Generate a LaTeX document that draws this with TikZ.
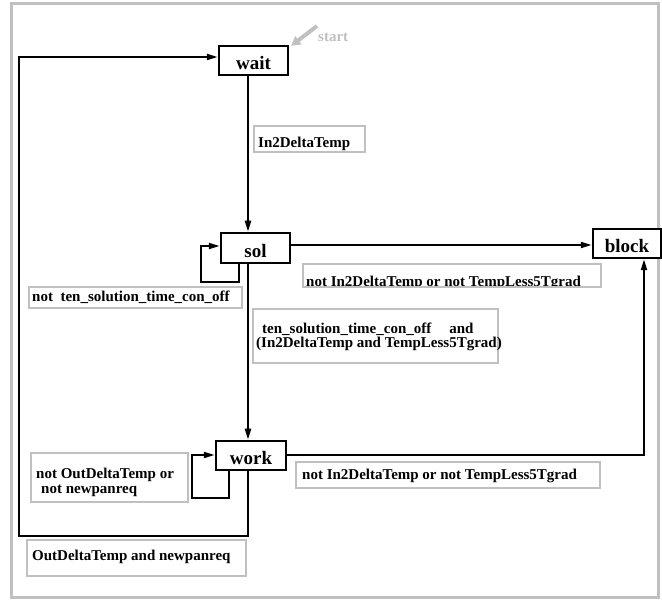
\documentclass[tikz,border=0pt]{standalone}
\usepackage{fontspec}
\setmainfont{Liberation Serif}
\usetikzlibrary{arrows.meta}
\definecolor{lgray}{RGB}{192,192,192}
\begin{document}
\begin{tikzpicture}[x=1pt,y=-1pt,
  state/.style={draw=black, line width=2.5pt, fill=white, minimum width=69pt,
    minimum height=29pt, inner sep=0pt, text height=19pt, text depth=0pt,
    font=\fontsize{19}{19}\selectfont\bfseries},
  lbl/.style={font=\fontsize{15}{15}\selectfont\bfseries, inner sep=0pt, anchor=base west},
  lbox/.style={draw=lgray, line width=2pt},
  arr/.style={line width=2pt, -{Triangle[length=11pt,width=6pt]}},
  startarr/.style={draw=lgray, line width=4pt, -{Triangle[length=9pt,width=10pt]}}]
\useasboundingbox (0,0) rectangle (662,601);
% outer frame
\draw[draw=lgray, line width=3pt] (11,4) rectangle (658,598);

% states
\node[state] (wait) at (253.5,60.5) {wait};
\node[state, minimum height=30pt] (sol) at (255.5,248) {sol};
\node[state, minimum width=70pt] (work) at (251,455.5) {work};
\node[state, minimum width=68pt] (block) at (627,243.5) {block};

% helper coordinates
\coordinate (colx) at (248,0);
\coordinate (sl1) at (239,282);
\coordinate (sl2) at (201,246);
\coordinate (wl1) at (229,498);
\coordinate (wl2) at (192,455);
\coordinate (sby) at (0,245);
\coordinate (wb) at (644,455);
\coordinate (bl1) at (19,536);
\coordinate (bl2) at (19,57);
\coordinate (st) at (317,26);

% start
\draw[startarr] (st) -- ([shift={(2pt,-1pt)}]wait.north east);
\node[lbl, text=lgray] (starttxt) at (318,42) {start};

% connectors
\draw[arr] (wait.south -| colx) -- (sol.north -| colx);
\draw[arr] (sol.south -| sl1) -- (sl1) -| (sl2) -- (sol.west |- sl2);
\draw[arr] (sol.east |- sby) -- (block.west |- sby);
\draw[arr] (sol.south -| colx) -- (work.north -| colx);
\draw[arr] (work.south -| wl1) -- (wl1) -| (wl2) -- (work.west |- wl2);
\draw[arr] (work.east |- wb) -- (wb) -- (block.south -| wb);
\draw[arr] (work.south -| colx) |- (bl1) -- (bl2) -- (wait.west |- bl2);

% labels
\draw[lbox] (254,126) rectangle (365,152);
\node[lbl] (l1) at (258,148) {In2DeltaTemp};

\begin{scope}
  \clip (303,264) rectangle (601,287);
  \node[lbl] (l2) at (306,286.5) {not In2DeltaTemp or not TempLess5Tgrad};
\end{scope}
\draw[lbox] (303,264) rectangle (601,287);

\draw[lbox] (29,287) rectangle (242,308);
\node[lbl] (l3) at (32,302) {not\hspace{3.75pt} ten\_solution\_time\_con\_off};

\draw[lbox] (253,309) rectangle (498,363);
\node[lbl] (l4a) at (262,334) {ten\_solution\_time\_con\_off\hspace{18pt}and};
\node[lbl] (l4b) at (256,348) {(In2DeltaTemp and TempLess5Tgrad)};

\draw[lbox] (31,453) rectangle (188,502);
\node[lbl] (l5a) at (36,479) {not OutDeltaTemp or};
\node[lbl] (l5b) at (41,494) {not newpanreq};

\draw[lbox] (296,462) rectangle (600,488);
\node[lbl] (l6) at (302,480) {not In2DeltaTemp or not TempLess5Tgrad};

\draw[lbox] (27,540) rectangle (246,576);
\node[lbl] (l7) at (32,561) {OutDeltaTemp and newpanreq};
\end{tikzpicture}
\end{document}
